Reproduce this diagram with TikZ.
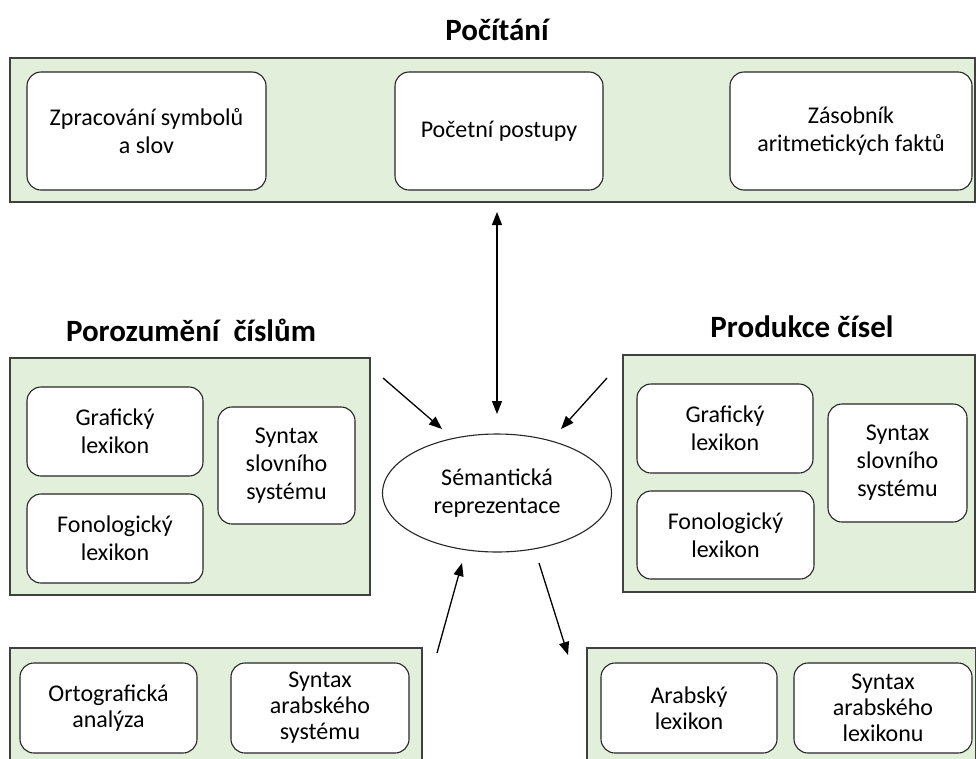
\documentclass[tikz,border=0pt]{standalone}
\usepackage{fontspec}
\setmainfont{Carlito}
\usetikzlibrary{arrows.meta,shapes.geometric}
\definecolor{grn}{HTML}{E2EFDA}
\definecolor{edge}{HTML}{404040}
\tikzset{
  area/.style={draw=edge, line width=1.4pt, fill=grn, inner sep=0pt},
  inbox/.style={draw=black!85, line width=1.1pt, fill=white, rounded corners=14pt, inner sep=0pt, align=center, font=\fontsize{24}{28}\selectfont},
  lowbox/.style={inbox, font=\fontsize{24}{26}\selectfont},
  ttl/.style={font=\bfseries\fontsize{31}{35}\selectfont, inner sep=0pt},
  sem/.style={ellipse, draw=black!85, line width=1.1pt, fill=white, inner sep=0pt, align=center, font=\fontsize{24}{28}\selectfont},
  arr/.style={line width=1.3pt, -{Triangle[length=13pt,width=10pt]}},
  darr/.style={line width=1.3pt, {Triangle[length=13pt,width=10pt]}-{Triangle[length=13pt,width=10pt]}}
}
\begin{document}
\begin{tikzpicture}[x=1pt,y=-1pt]
\useasboundingbox (0,0) rectangle (976,758);
\clip (0,0) rectangle (976,758);
\fill[white] (0,0) rectangle (976,758);

% titles
\node[ttl] (tPoc) at (497,30) {Počítání};
\node[ttl] (tPor) at (191,330) {Porozumění\ \ číslům};
\node[ttl] (tPro) at (802,327) {Produkce čísel};

% top area
\node[area, minimum width=965pt, minimum height=144pt] (top) at (492.5,130) {};
\node[inbox, minimum width=239pt, minimum height=118pt] (zpr) at (146.5,131) {Zpracování symbolů\\a slov};
\node[inbox, minimum width=208pt, minimum height=118pt] (pp) at (499,131) {Početní postupy};
\node[inbox, minimum width=242pt, minimum height=118pt] (zas) at (851,131) {Zásobník\\aritmetických faktů};

% left area
\node[area, minimum width=360pt, minimum height=237pt] (left) at (190,476.5) {};
\node[inbox, minimum width=176pt, minimum height=89pt] (grL) at (115,431.5) {Grafický\\lexikon};
\node[inbox, minimum width=176pt, minimum height=89pt] (foL) at (115,538.5) {Fonologický\\lexikon};
\node[inbox, minimum width=137pt, minimum height=117pt] (syL) at (286.5,465.5) {Syntax\\slovního\\systému};

% right area
\node[area, minimum width=352pt, minimum height=237pt] (right) at (799,473.5) {};
\node[inbox, minimum width=176pt, minimum height=89pt] (grR) at (725,428.5) {Grafický\\lexikon};
\node[inbox, minimum width=177pt, minimum height=88pt] (foR) at (725.5,535) {Fonologický\\lexikon};
\node[inbox, minimum width=139pt, minimum height=118pt] (syR) at (897.5,463) {Syntax\\slovního\\systému};

% bottom-left area
\node[area, minimum width=412pt, minimum height=140pt] (bl) at (216,718) {};
\node[lowbox, minimum width=177pt, minimum height=90pt] (ort) at (108.5,708) {Ortografická\\analýza};
\node[lowbox, minimum width=178pt, minimum height=90pt] (sas) at (320,708) {Syntax\\arabského\\systému};

% bottom-right area
\node[area, minimum width=389pt, minimum height=140pt] (br) at (781.5,718) {};
\node[lowbox, minimum width=176pt, minimum height=90pt] (arl) at (689,708) {Arabský\\lexikon};
\node[lowbox, minimum width=178pt, minimum height=90pt] (sal) at (883,708) {Syntax\\arabského\\lexikonu};

% semantic representation
\node[sem, minimum width=229pt, minimum height=118pt] (sr) at (497,493) {Sémantická\\reprezentace};

% arrow end points
\coordinate (vA) at (497,212);
\coordinate (vB) at (497,414);
\coordinate (lA) at (383,378);
\coordinate (lB) at (442,429);
\coordinate (rA) at (607,378);
\coordinate (rB) at (561,429);
\coordinate (bA) at (437,653);
\coordinate (bB) at (462,563);
\coordinate (cA) at (539,563);
\coordinate (cB) at (568,655);

\draw[darr] (vA) -- (vB);
\draw[arr] (lA) -- (lB);
\draw[arr] (rA) -- (rB);
\draw[arr] (bA) -- (bB);
\draw[arr] (cA) -- (cB);
\end{tikzpicture}
\end{document}
